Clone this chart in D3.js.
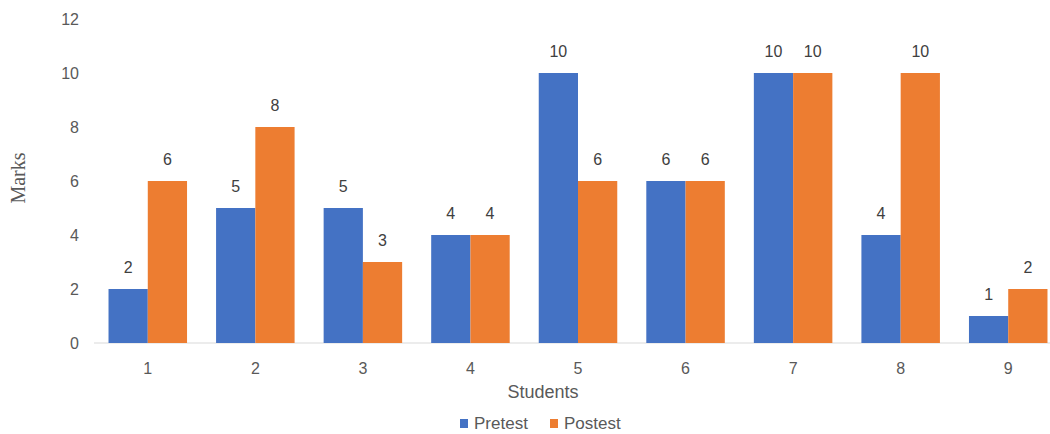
<!DOCTYPE html>
<html><head><meta charset="utf-8">
<script src="https://cdn.jsdelivr.net/npm/d3@7"></script>
<style>body{margin:0;background:#fff}svg{display:block}</style>
</head><body>
<svg id="c" width="1050" height="434"></svg>
<script>
const students = ["1","2","3","4","5","6","7","8","9"];
const pretest = [2,5,5,4,10,6,10,4,1];
const postest = [6,8,3,4,6,6,10,10,2];
const seriesNames = ["Pretest","Postest"];
const colors = ["#4472C4","#ED7D31"];
const yTicks = [0,2,4,6,8,10,12];

const svg = d3.select("#c");
const x0 = d3.scaleBand().domain(students).range([94,1062]).paddingInner(0.27).paddingOuter(0.135);
const x1 = d3.scaleBand().domain(seriesNames).range([0,x0.bandwidth()]);
const y = d3.scaleLinear().domain([0,12]).range([343,19]);
const font = "Liberation Sans, Arial, sans-serif";

// baseline
svg.append("line").attr("x1",94).attr("x2",1062).attr("y1",y(0)).attr("y2",y(0))
  .attr("stroke","#d9d9d9").attr("stroke-width",1);

// y ticks
const yAxis = svg.append("g").attr("transform","translate(80,0)")
  .call(d3.axisLeft(y).tickValues(yTicks).tickSize(0).tickPadding(1));
yAxis.select(".domain").remove();
yAxis.selectAll("text").attr("font-family",font).attr("font-size",16).attr("fill","#595959");

// x ticks
const xAxis = svg.append("g").attr("transform",`translate(0,${y(0)})`)
  .call(d3.axisBottom(x0).tickSize(0).tickPadding(20));
xAxis.select(".domain").remove();
xAxis.selectAll("text").attr("font-family",font).attr("font-size",16).attr("fill","#595959");

const data = students.map((s,i)=>({s, vals:[pretest[i],postest[i]]}));
const g = svg.append("g").selectAll("g").data(data).join("g")
  .attr("transform",d=>`translate(${x0(d.s)},0)`);
g.selectAll("rect").data(d=>d.vals.map((v,j)=>({v,j}))).join("rect")
  .attr("x",d=>x1(seriesNames[d.j])).attr("width",x1.bandwidth())
  .attr("y",d=>y(d.v)).attr("height",d=>y(0)-y(d.v))
  .attr("fill",d=>colors[d.j]);
g.selectAll("text").data(d=>d.vals.map((v,j)=>({v,j}))).join("text")
  .attr("x",d=>x1(seriesNames[d.j])+x1.bandwidth()/2)
  .attr("y",d=>y(d.v)-16)
  .attr("text-anchor","middle").attr("font-family",font).attr("font-size",16)
  .attr("fill","#404040").text(d=>d.v);

// axis titles
svg.append("text").attr("x",543).attr("y",398).attr("text-anchor","middle")
  .attr("font-family",font).attr("font-size",18).attr("fill","#595959").text("Students");
svg.append("text").attr("transform","translate(25,178) rotate(-90)").attr("text-anchor","middle")
  .attr("font-family","Liberation Serif, Times New Roman, serif").attr("font-size",20).attr("fill","#595959").text("Marks");

// legend
const leg = svg.append("g");
const lx = [460,550];
seriesNames.forEach((n,i)=>{
  leg.append("rect").attr("x",lx[i]).attr("y",419).attr("width",8).attr("height",9).attr("fill",colors[i]);
  leg.append("text").attr("x",lx[i]+14).attr("y",429).attr("font-family",font).attr("font-size",17)
    .attr("fill","#595959").text(n);
});
</script>
</body></html>
